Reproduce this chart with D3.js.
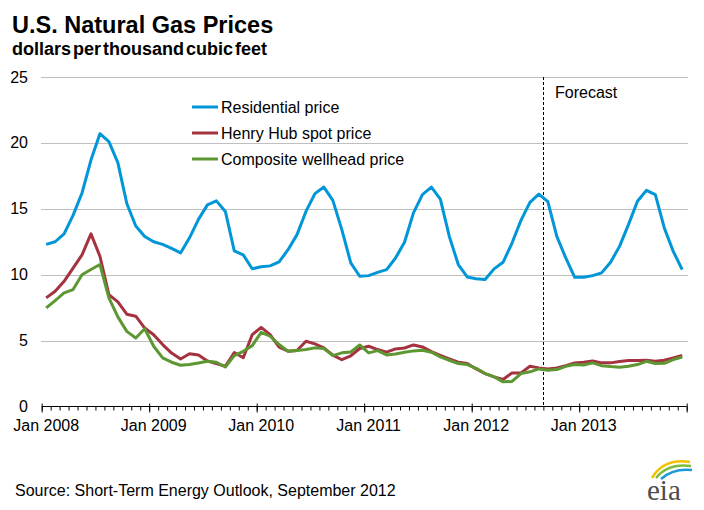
<!DOCTYPE html>
<html>
<head>
<meta charset="utf-8">
<script src="https://cdn.jsdelivr.net/npm/d3@7/dist/d3.min.js"></script>
<style>
  html, body { margin: 0; padding: 0; background: #ffffff; }
  svg { display: block; }
  text { font-family: "Liberation Sans", Arial, sans-serif; fill: #000; }
</style>
</head>
<body>
<svg id="chart" width="704" height="510"></svg>
<script>
// ---- data (monthly, Jan 2008 - Dec 2013) ----
const yearLabels = ["Jan 2008", "Jan 2009", "Jan 2010", "Jan 2011", "Jan 2012", "Jan 2013"];
const yTicks = [0, 5, 10, 15, 20, 25];
const seriesNames = ["Residential price", "Henry Hub spot price", "Composite wellhead price"];

const residential = [
  12.3, 12.5, 13.1, 14.5, 16.2, 18.7, 20.7, 20.1, 18.5, 15.4, 13.7, 12.9,
  12.5, 12.3, 12.0, 11.65, 12.8, 14.2, 15.3, 15.6, 14.8, 11.8, 11.5, 10.45,
  10.6, 10.67, 10.97, 11.9, 13.04, 14.8, 16.15, 16.65, 15.64, 13.42, 10.9, 9.88,
  9.93, 10.18, 10.39, 11.27, 12.46, 14.69, 16.07, 16.65, 15.74, 12.91, 10.77, 9.83,
  9.7, 9.63, 10.44, 10.94, 12.4, 14.12, 15.49, 16.12, 15.54, 12.91, 11.27, 9.8,
  9.8, 9.93, 10.14, 10.94, 12.15, 13.8, 15.57, 16.4, 16.07, 13.55, 11.77, 10.39
];
const henryHub = [
  8.24, 8.74, 9.5, 10.5, 11.5, 13.1, 11.4, 8.49, 7.94, 7.0, 6.85, 5.95,
  5.45, 4.7, 4.05, 3.6, 4.0, 3.9, 3.45, 3.25, 3.05, 4.1, 3.7, 5.45,
  6.0, 5.45, 4.5, 4.2, 4.25, 4.95, 4.75, 4.45, 3.9, 3.55, 3.85, 4.4,
  4.57, 4.32, 4.12, 4.37, 4.44, 4.67, 4.52, 4.17, 3.87, 3.61, 3.36, 3.26,
  2.85, 2.5, 2.25, 2.05, 2.55, 2.55, 3.05, 2.93, 2.85, 2.93, 3.1, 3.31,
  3.36, 3.46, 3.31, 3.31, 3.41, 3.49, 3.49, 3.51, 3.43, 3.51, 3.69, 3.87
];
const wellhead = [
  7.48, 8.04, 8.62, 8.87, 10.0, 10.39, 10.77, 8.24, 6.8, 5.7, 5.2, 5.9,
  4.57, 3.69, 3.36, 3.13, 3.18, 3.3, 3.43, 3.36, 3.0, 3.86, 4.19, 4.62,
  5.63, 5.33, 4.7, 4.19, 4.24, 4.32, 4.45, 4.4, 3.86, 4.07, 4.14, 4.67,
  4.07, 4.24, 3.91, 3.99, 4.12, 4.22, 4.27, 4.12, 3.76, 3.51, 3.26, 3.18,
  2.9, 2.5, 2.25, 1.87, 1.9, 2.5, 2.63, 2.85, 2.75, 2.8, 3.05, 3.18,
  3.15, 3.31, 3.1, 3.03, 2.98, 3.05, 3.18, 3.43, 3.26, 3.28, 3.56, 3.76
];
const forecastStart = 56; // Sep 2012 (month index)
const colors = ["#0096d7", "#a5323f", "#5d9732"];

// ---- layout ----
const svg = d3.select("#chart");
const nMonths = residential.length;
const x = d3.scaleLinear().domain([0, nMonths]).range([41.7, 686.7]);
const y = d3.scaleLinear().domain([0, 25]).range([406.5, 77]);

// title
svg.append("text").attr("x", 12).attr("y", 33)
  .style("font-size", "23.5px").style("font-weight", "bold")
  .text("U.S. Natural Gas Prices");
svg.append("text").attr("x", 12).attr("y", 54.5)
  .style("font-size", "18px").style("font-weight", "bold").style("word-spacing", "-3px")
  .text("dollars per thousand cubic feet");

// gridlines
svg.append("g").selectAll("line").data(yTicks.filter(d => d > 0)).join("line")
  .attr("x1", 41).attr("x2", 688)
  .attr("y1", d => Math.round(y(d)) + 0.5).attr("y2", d => Math.round(y(d)) + 0.5)
  .attr("stroke", "#bfbfbf").attr("stroke-width", 1);

// y labels
svg.append("g").selectAll("text").data(yTicks).join("text")
  .attr("x", 28).attr("y", d => y(d) + 5.5)
  .attr("text-anchor", "end").style("font-size", "16px")
  .text(d => d);

// x axis: minor ticks
const axisY = Math.round(y(0)) - 0.5;
const minor = svg.append("g").attr("transform", `translate(0,${axisY})`)
  .call(d3.axisBottom(x).tickValues(d3.range(0, nMonths + 1)).tickSize(4).tickFormat(""));
minor.select(".domain").attr("stroke", "#000").attr("d", `M${x(0)},0H${x(nMonths)}`);
minor.selectAll(".tick line").attr("stroke", "#000");

// major ticks
const major = svg.append("g").attr("transform", `translate(0,${axisY})`)
  .call(d3.axisBottom(x).tickValues(d3.range(0, nMonths + 1, 12)).tickSize(6).tickFormat(""));
major.select(".domain").remove();
major.selectAll(".tick line").attr("y1", -3).attr("stroke", "#000");

// x labels
svg.append("g").selectAll("text").data(yearLabels).join("text")
  .attr("x", (d, i) => x(i * 12 + 0.5))
  .attr("y", 430.5)
  .attr("text-anchor", "middle").style("font-size", "16px")
  .text(d => d);

// forecast divider
svg.append("line")
  .attr("x1", Math.round(x(forecastStart)) + 0.5).attr("x2", Math.round(x(forecastStart)) + 0.5)
  .attr("y1", y(25)).attr("y2", axisY)
  .attr("stroke", "#000").attr("stroke-width", 1).attr("stroke-dasharray", "3,2");
svg.append("text").attr("x", 555).attr("y", 98).style("font-size", "16px").text("Forecast");

// series lines
const line = d3.line().x((d, i) => x(i + 0.5)).y(d => y(d));
[residential, henryHub, wellhead].forEach((s, k) => {
  svg.append("path").datum(s).attr("d", line)
    .attr("fill", "none").attr("stroke", colors[k])
    .attr("stroke-width", 3).attr("stroke-linejoin", "round");
});

// legend
const lg = svg.append("g");
seriesNames.forEach((name, k) => {
  const ly = 107 + k * 26;
  lg.append("line").attr("x1", 192).attr("x2", 218).attr("y1", ly).attr("y2", ly)
    .attr("stroke", colors[k]).attr("stroke-width", 3);
  lg.append("text").attr("x", 221).attr("y", ly + 6).style("font-size", "16px").text(name);
});

// source
svg.append("text").attr("x", 15).attr("y", 496).style("font-size", "16px")
  .text("Source: Short-Term Energy Outlook, September 2012");

// eia logo
const logo = svg.append("g");
logo.append("path").attr("d", "M652,478 Q664,458 690,462").attr("fill", "none")
  .attr("stroke", "#f2c200").attr("stroke-width", 2.5);
logo.append("path").attr("d", "M656,478 Q668,463 691,466").attr("fill", "none")
  .attr("stroke", "#7dbb3e").attr("stroke-width", 2.5);
logo.append("path").attr("d", "M661,479 Q673,468 692,470").attr("fill", "none")
  .attr("stroke", "#1a9ad6").attr("stroke-width", 2.5);
logo.append("text").attr("x", 647).attr("y", 500)
  .style("font-family", "'Liberation Serif', 'DejaVu Serif', serif")
  .style("font-size", "29px").style("fill", "#4d4d4d")
  .text("eia");
</script>
</body>
</html>
